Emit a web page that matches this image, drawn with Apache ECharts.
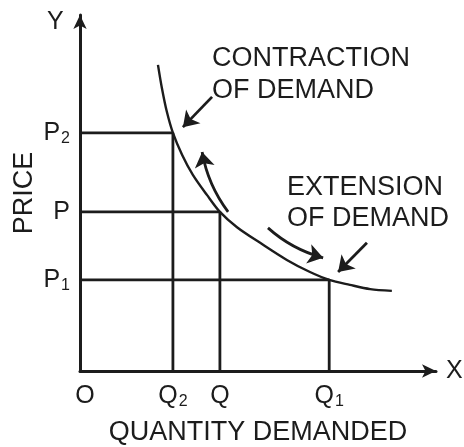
<!DOCTYPE html>
<html>
<head>
<meta charset="utf-8">
<script src="https://cdn.jsdelivr.net/npm/echarts@6/dist/echarts.min.js"></script>
<style>
  html, body { margin: 0; padding: 0; background: #fff; }
  #chart { width: 464px; height: 447px; }
</style>
</head>
<body>
<div id="chart"></div>
<script>
    // quantities and prices (same units on both axes)
    var quantities = [2.61, 3.93, 7.0];    // Q2, Q, Q1
    var prices = [6.69, 4.47, 2.56];       // P2, P, P1
    var qLabels = ['Q|2', 'Q|', 'Q|1'];
    var pLabels = ['P|2', 'P|', 'P|1'];

    // demand curve D -> D'
    var curveX = [2.19, 2.30, 2.44, 2.61, 2.87, 3.17, 3.57, 3.93, 4.41, 5.06, 5.81, 6.46, 7.0, 7.58, 8.15, 8.76];
    var curveY = [8.60, 7.95, 7.28, 6.69, 6.07, 5.51, 4.94, 4.47, 4.04, 3.60, 3.12, 2.78, 2.56, 2.42, 2.30, 2.25];

    // arrows: [fromX, fromY, toX, toY, curveness]
    var arrows = [
        [3.71, 7.70, 2.89, 6.85, 0],
        [8.06, 3.60, 7.25, 2.78, 0],
        [4.16, 4.47, 3.43, 6.15, 0.12],
        [5.28, 4.02, 6.83, 3.18, -0.12]
    ];

    var ink = '#1c1c1c';
    var font = 'Liberation Sans';

    var chart = echarts.init(document.getElementById('chart'));

    function subLabel(txt) {
        var parts = txt.split('|');
        return '{m|' + parts[0] + '}' + (parts[1] ? '{s|' + parts[1] + '}' : '');
    }
    var richSub = {
        m: { fontSize: 25, fontFamily: font, color: ink, lineHeight: 27 },
        s: { fontSize: 16, fontFamily: font, color: ink, lineHeight: 16, verticalAlign: 'bottom', padding: [0, 0, 0, 1] },
        o: { fontSize: 25, fontFamily: font, color: ink, lineHeight: 27, padding: [0, 0, 0, 10] }
    };

    var curveData = curveX.map(function (x, i) { return [x, curveY[i]]; });
    curveData[0] = {
        value: curveData[0],
        label: { show: true, position: 'top', distance: 4, formatter: 'D' }
    };
    curveData[curveData.length - 1] = {
        value: curveData[curveData.length - 1],
        label: { show: true, position: 'right', distance: 11, formatter: "D'" }
    };

    var series = [];

    // guide lines from axes to curve
    quantities.forEach(function (q, i) {
        series.push({
            type: 'line',
            data: [[0, prices[i]], [q, prices[i]], [q, 0]],
            symbol: 'none',
            lineStyle: { color: ink, width: 2.8 },
            silent: true
        });
    });

    series.push({
        name: 'demand',
        type: 'line',
        smooth: 0.3,
        data: curveData,
        symbol: 'none',
        lineStyle: { color: ink, width: 2.4 },
        label: { fontSize: 25, fontFamily: font, color: ink },
        z: 5
    });

    series.push({
        type: 'lines',
        coordinateSystem: 'cartesian2d',
        symbol: ['none', 'arrow'],
        symbolSize: 15,
        lineStyle: { color: ink, width: 2.8, opacity: 1 },
        data: arrows.map(function (a) {
            return { coords: [[a[0], a[1]], [a[2], a[3]]], lineStyle: { curveness: a[4] } };
        }),
        z: 6
    });

    var bigText = { fontSize: 27, fontFamily: font, color: ink };

    var option = {
        animation: false,
        backgroundColor: '#fff',
        grid: { left: 80, right: 28, top: 15, bottom: 76, outerBoundsMode: 'none', containLabel: false },
        xAxis: {
            type: 'value',
            min: 0,
            max: 10,
            name: 'QUANTITY DEMANDED',
            nameLocation: 'middle',
            nameGap: 48,
            nameTextStyle: bigText,
            axisLine: { show: true, symbol: ['none', 'arrow'], symbolSize: [10, 14], lineStyle: { color: ink, width: 3 } },
            axisTick: { show: false },
            splitLine: { show: false },
            axisLabel: {
                customValues: [0].concat(quantities),
                margin: 12,
                formatter: function (v) {
                    if (v === 0) return '{o|O}';
                    var i = quantities.indexOf(v);
                    return i >= 0 ? subLabel(qLabels[i]) : '';
                },
                rich: richSub
            }
        },
        yAxis: {
            type: 'value',
            min: 0,
            max: 10,
            name: 'PRICE',
            nameLocation: 'middle',
            nameRotate: 90,
            nameGap: 42,
            nameMoveOverlap: false,
            nameTextStyle: bigText,
            axisLine: { show: true, symbol: ['none', 'arrow'], symbolSize: [10, 14], lineStyle: { color: ink, width: 3 } },
            axisTick: { show: false },
            splitLine: { show: false },
            axisLabel: {
                customValues: prices,
                margin: 10,
                formatter: function (v) {
                    var i = prices.indexOf(v);
                    return i >= 0 ? subLabel(pLabels[i]) : '';
                },
                rich: richSub
            }
        },
        graphic: [
            { type: 'text', left: 47, top: 10, style: { text: 'Y', fontSize: 25, fontFamily: font, fill: ink } },
            { type: 'text', left: 446, top: 359, style: { text: 'X', fontSize: 25, fontFamily: font, fill: ink } },
            { type: 'text', left: 212, top: 43, style: { text: 'CONTRACTION\nOF DEMAND', fontSize: 27, fontFamily: font, fill: ink, align: 'center', lineHeight: 32 } },
            { type: 'text', left: 287, top: 172, style: { text: 'EXTENSION\nOF DEMAND', fontSize: 27, fontFamily: font, fill: ink, align: 'center', lineHeight: 31 } }
        ],
        series: series
    };

    chart.setOption(option);
</script>
</body>
</html>
